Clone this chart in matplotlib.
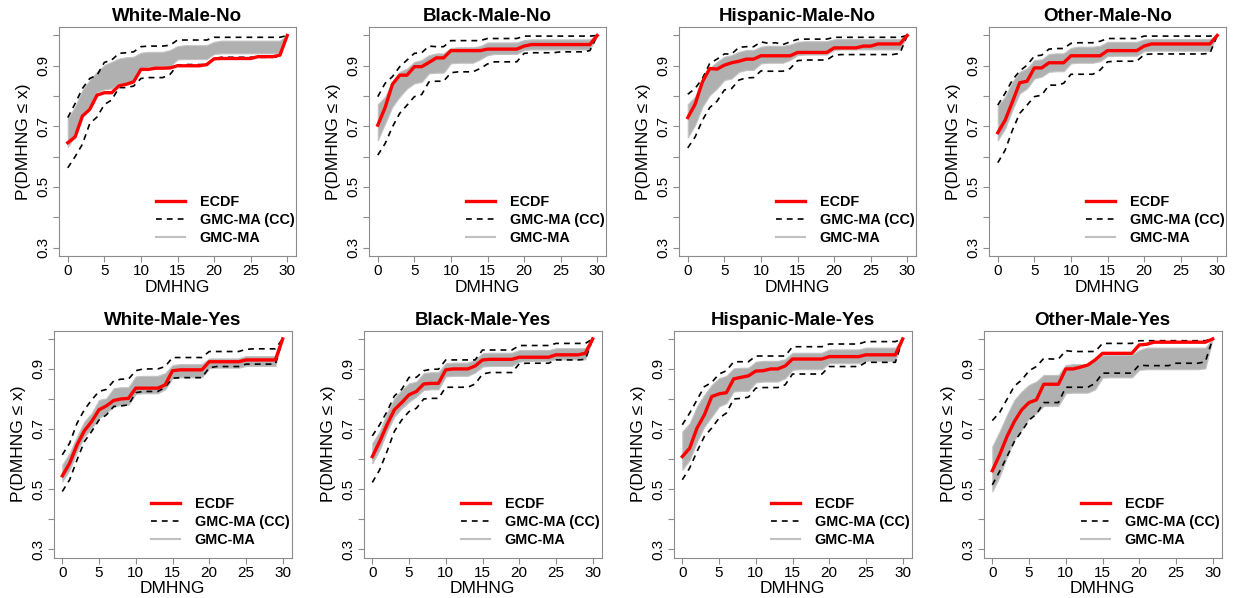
import numpy as np
import matplotlib
matplotlib.use("Agg")
import matplotlib.pyplot as plt

plt.rcParams['font.family'] = ['Liberation Sans', 'DejaVu Sans']

# DMHNG values (x axis)
dmhng = list(range(31))

titles = ["White-Male-No", "Black-Male-No", "Hispanic-Male-No", "Other-Male-No",
          "White-Male-Yes", "Black-Male-Yes", "Hispanic-Male-Yes", "Other-Male-Yes"]

# ---- White-Male-No
ecdf_wmn = [0.646, 0.665, 0.734, 0.756, 0.803, 0.811, 0.811, 0.834, 0.839, 0.847,
            0.888, 0.888, 0.892, 0.892, 0.893, 0.900, 0.900, 0.900, 0.900, 0.904,
            0.923, 0.924, 0.924, 0.924, 0.924, 0.924, 0.930, 0.930, 0.930, 0.935, 1.0]
cchi_wmn = [0.729, 0.775, 0.825, 0.858, 0.869, 0.911, 0.919, 0.941, 0.943, 0.946,
            0.963, 0.965, 0.965, 0.965, 0.968, 0.985, 0.985, 0.985, 0.985, 0.985,
            0.994, 0.994, 0.994, 0.994, 0.994, 0.994, 0.994, 0.994, 0.994, 0.994, 1.0]
cclo_wmn = [0.563, 0.600, 0.641, 0.709, 0.731, 0.772, 0.787, 0.828, 0.828, 0.833,
            0.858, 0.861, 0.861, 0.861, 0.872, 0.902, 0.904, 0.904, 0.904, 0.904,
            0.924, 0.928, 0.928, 0.928, 0.928, 0.928, 0.928, 0.928, 0.928, 0.930, 1.0]
bhi_wmn = [0.726, 0.765, 0.820, 0.853, 0.880, 0.902, 0.913, 0.924, 0.928, 0.930,
           0.943, 0.946, 0.946, 0.946, 0.952, 0.965, 0.968, 0.968, 0.968, 0.968,
           0.979, 0.983, 0.983, 0.983, 0.983, 0.983, 0.983, 0.983, 0.983, 0.983, 1.0]
blo_wmn = [0.632, 0.668, 0.743, 0.767, 0.814, 0.822, 0.825, 0.842, 0.844, 0.853,
           0.891, 0.897, 0.897, 0.897, 0.899, 0.921, 0.922, 0.922, 0.922, 0.922,
           0.939, 0.941, 0.941, 0.941, 0.941, 0.941, 0.941, 0.941, 0.941, 0.943, 1.0]

# ---- Black-Male-No
ecdf_bmn = [0.704, 0.762, 0.839, 0.869, 0.869, 0.897, 0.897, 0.911, 0.926, 0.926,
            0.950, 0.950, 0.950, 0.950, 0.950, 0.955, 0.955, 0.955, 0.955, 0.955,
            0.965, 0.970, 0.970, 0.970, 0.970, 0.970, 0.970, 0.970, 0.970, 0.970, 1.0]
cchi_bmn = [0.798, 0.842, 0.864, 0.897, 0.919, 0.941, 0.943, 0.965, 0.963, 0.963,
            0.983, 0.983, 0.983, 0.983, 0.983, 0.990, 0.990, 0.990, 0.990, 0.990,
            0.998, 0.998, 0.998, 0.998, 0.998, 0.998, 0.998, 0.998, 0.998, 0.998, 1.0]
cclo_bmn = [0.605, 0.643, 0.698, 0.743, 0.770, 0.798, 0.805, 0.847, 0.849, 0.849,
            0.877, 0.880, 0.880, 0.880, 0.891, 0.906, 0.913, 0.913, 0.913, 0.913,
            0.941, 0.943, 0.943, 0.943, 0.943, 0.946, 0.946, 0.946, 0.946, 0.950, 1.0]
bhi_bmn = [0.773, 0.798, 0.847, 0.880, 0.891, 0.913, 0.919, 0.935, 0.941, 0.941,
           0.959, 0.961, 0.961, 0.961, 0.965, 0.977, 0.977, 0.977, 0.977, 0.977,
           0.985, 0.987, 0.987, 0.987, 0.987, 0.987, 0.987, 0.987, 0.987, 0.987, 1.0]
blo_bmn = [0.654, 0.709, 0.765, 0.798, 0.825, 0.842, 0.847, 0.875, 0.877, 0.877,
           0.908, 0.910, 0.910, 0.910, 0.921, 0.935, 0.939, 0.939, 0.939, 0.939,
           0.952, 0.954, 0.954, 0.954, 0.954, 0.954, 0.954, 0.954, 0.954, 0.954, 1.0]

# ---- Hispanic-Male-No
ecdf_hmn = [0.729, 0.773, 0.847, 0.891, 0.889, 0.902, 0.910, 0.915, 0.922, 0.922,
            0.933, 0.933, 0.933, 0.933, 0.933, 0.944, 0.944, 0.944, 0.944, 0.944,
            0.959, 0.959, 0.959, 0.959, 0.965, 0.965, 0.972, 0.972, 0.972, 0.972, 1.0]
cchi_hmn = [0.806, 0.825, 0.858, 0.908, 0.922, 0.939, 0.939, 0.961, 0.963, 0.963,
            0.979, 0.974, 0.976, 0.970, 0.979, 0.987, 0.988, 0.988, 0.988, 0.988,
            0.994, 0.994, 0.994, 0.994, 0.994, 0.994, 0.994, 0.994, 0.994, 0.994, 1.0]
cclo_hmn = [0.629, 0.665, 0.720, 0.762, 0.783, 0.820, 0.825, 0.853, 0.860, 0.861,
            0.883, 0.882, 0.882, 0.882, 0.891, 0.917, 0.919, 0.919, 0.919, 0.919,
            0.935, 0.937, 0.937, 0.937, 0.937, 0.937, 0.937, 0.937, 0.937, 0.941, 1.0]
bhi_hmn = [0.773, 0.798, 0.853, 0.893, 0.913, 0.930, 0.935, 0.946, 0.952, 0.952,
           0.963, 0.966, 0.966, 0.966, 0.970, 0.979, 0.981, 0.981, 0.981, 0.981,
           0.987, 0.988, 0.988, 0.988, 0.988, 0.988, 0.988, 0.988, 0.988, 0.988, 1.0]
blo_hmn = [0.663, 0.704, 0.765, 0.803, 0.825, 0.853, 0.858, 0.880, 0.886, 0.886,
           0.908, 0.910, 0.910, 0.910, 0.919, 0.935, 0.937, 0.937, 0.937, 0.937,
           0.952, 0.954, 0.954, 0.954, 0.954, 0.954, 0.954, 0.954, 0.954, 0.954, 1.0]

# ---- Other-Male-No
ecdf_omn = [0.679, 0.720, 0.781, 0.844, 0.849, 0.893, 0.893, 0.910, 0.910, 0.910,
            0.933, 0.933, 0.933, 0.933, 0.933, 0.950, 0.950, 0.950, 0.950, 0.950,
            0.965, 0.972, 0.972, 0.972, 0.972, 0.972, 0.972, 0.972, 0.972, 0.972, 1.0]
cchi_omn = [0.770, 0.809, 0.853, 0.883, 0.902, 0.932, 0.935, 0.955, 0.957, 0.957,
            0.974, 0.976, 0.976, 0.976, 0.981, 0.990, 0.990, 0.990, 0.990, 0.990,
            0.998, 0.998, 0.998, 0.998, 0.998, 0.998, 0.998, 0.998, 0.998, 0.998, 1.0]
cclo_omn = [0.580, 0.621, 0.687, 0.743, 0.770, 0.798, 0.803, 0.836, 0.836, 0.842,
            0.872, 0.872, 0.872, 0.872, 0.886, 0.913, 0.915, 0.915, 0.915, 0.915,
            0.937, 0.939, 0.939, 0.939, 0.939, 0.939, 0.939, 0.939, 0.939, 0.941, 1.0]
bhi_omn = [0.767, 0.798, 0.847, 0.880, 0.891, 0.919, 0.921, 0.939, 0.941, 0.941,
           0.959, 0.963, 0.963, 0.963, 0.966, 0.979, 0.979, 0.979, 0.979, 0.979,
           0.987, 0.988, 0.988, 0.988, 0.988, 0.988, 0.988, 0.988, 0.988, 0.988, 1.0]
blo_omn = [0.654, 0.693, 0.754, 0.809, 0.825, 0.858, 0.864, 0.880, 0.882, 0.882,
           0.908, 0.910, 0.910, 0.910, 0.915, 0.932, 0.933, 0.933, 0.933, 0.933,
           0.948, 0.950, 0.950, 0.950, 0.950, 0.950, 0.950, 0.950, 0.950, 0.950, 1.0]

# ---- White-Male-Yes
ecdf_wmy = [0.544, 0.586, 0.647, 0.694, 0.725, 0.764, 0.777, 0.795, 0.800, 0.802,
            0.836, 0.836, 0.836, 0.836, 0.847, 0.894, 0.897, 0.897, 0.897, 0.897,
            0.924, 0.924, 0.924, 0.924, 0.924, 0.930, 0.930, 0.930, 0.930, 0.930, 1.0]
cchi_wmy = [0.614, 0.653, 0.719, 0.764, 0.797, 0.825, 0.832, 0.860, 0.866, 0.866,
            0.894, 0.900, 0.900, 0.900, 0.908, 0.938, 0.938, 0.938, 0.938, 0.938,
            0.958, 0.958, 0.958, 0.958, 0.958, 0.965, 0.967, 0.967, 0.967, 0.967, 1.0]
cclo_wmy = [0.492, 0.531, 0.597, 0.658, 0.692, 0.730, 0.747, 0.775, 0.777, 0.780,
            0.821, 0.825, 0.825, 0.825, 0.839, 0.869, 0.871, 0.871, 0.871, 0.871,
            0.904, 0.908, 0.908, 0.908, 0.908, 0.916, 0.916, 0.916, 0.916, 0.916, 1.0]
bhi_wmy = [0.581, 0.620, 0.675, 0.725, 0.753, 0.797, 0.802, 0.836, 0.839, 0.839,
           0.875, 0.877, 0.877, 0.877, 0.886, 0.913, 0.916, 0.916, 0.916, 0.916,
           0.935, 0.935, 0.935, 0.935, 0.935, 0.943, 0.943, 0.943, 0.943, 0.943, 1.0]
blo_wmy = [0.525, 0.564, 0.625, 0.675, 0.703, 0.736, 0.753, 0.775, 0.780, 0.780,
           0.817, 0.819, 0.819, 0.819, 0.832, 0.869, 0.872, 0.872, 0.872, 0.872,
           0.902, 0.904, 0.904, 0.904, 0.904, 0.910, 0.910, 0.910, 0.910, 0.910, 1.0]

# ---- Black-Male-Yes
ecdf_bmy = [0.608, 0.658, 0.714, 0.764, 0.788, 0.814, 0.825, 0.850, 0.852, 0.852,
            0.897, 0.900, 0.900, 0.900, 0.910, 0.930, 0.932, 0.932, 0.932, 0.932,
            0.939, 0.939, 0.939, 0.939, 0.939, 0.947, 0.947, 0.947, 0.947, 0.952, 1.0]
cchi_bmy = [0.677, 0.714, 0.758, 0.810, 0.832, 0.872, 0.872, 0.894, 0.899, 0.899,
            0.930, 0.930, 0.930, 0.930, 0.930, 0.963, 0.963, 0.963, 0.963, 0.963,
            0.978, 0.978, 0.978, 0.978, 0.978, 0.985, 0.985, 0.985, 0.985, 0.985, 1.0]
cclo_bmy = [0.522, 0.564, 0.625, 0.692, 0.730, 0.758, 0.769, 0.800, 0.802, 0.802,
            0.839, 0.839, 0.839, 0.839, 0.850, 0.883, 0.888, 0.888, 0.888, 0.888,
            0.917, 0.919, 0.919, 0.919, 0.919, 0.930, 0.930, 0.930, 0.930, 0.932, 1.0]
bhi_bmy = [0.653, 0.692, 0.753, 0.802, 0.830, 0.852, 0.858, 0.886, 0.889, 0.889,
           0.919, 0.921, 0.921, 0.921, 0.930, 0.952, 0.954, 0.954, 0.954, 0.954,
           0.963, 0.963, 0.963, 0.963, 0.963, 0.969, 0.969, 0.969, 0.969, 0.969, 1.0]
blo_bmy = [0.586, 0.631, 0.692, 0.741, 0.769, 0.791, 0.808, 0.830, 0.832, 0.832,
           0.875, 0.877, 0.877, 0.877, 0.888, 0.908, 0.910, 0.910, 0.910, 0.910,
           0.924, 0.927, 0.927, 0.927, 0.927, 0.932, 0.932, 0.932, 0.932, 0.932, 1.0]

# ---- Hispanic-Male-Yes
ecdf_hmy = [0.608, 0.636, 0.703, 0.747, 0.808, 0.817, 0.821, 0.867, 0.872, 0.877,
            0.893, 0.894, 0.900, 0.900, 0.910, 0.933, 0.933, 0.933, 0.933, 0.933,
            0.941, 0.941, 0.941, 0.941, 0.941, 0.947, 0.947, 0.947, 0.947, 0.947, 1.0]
cchi_hmy = [0.714, 0.753, 0.797, 0.841, 0.855, 0.883, 0.894, 0.924, 0.924, 0.924,
            0.943, 0.943, 0.943, 0.943, 0.943, 0.974, 0.974, 0.974, 0.974, 0.974,
            0.983, 0.983, 0.983, 0.983, 0.983, 0.991, 0.991, 0.991, 0.991, 0.991, 1.0]
cclo_hmy = [0.531, 0.570, 0.625, 0.675, 0.703, 0.736, 0.753, 0.800, 0.802, 0.806,
            0.836, 0.838, 0.838, 0.838, 0.847, 0.883, 0.883, 0.883, 0.883, 0.883,
            0.908, 0.908, 0.908, 0.908, 0.908, 0.922, 0.922, 0.922, 0.922, 0.922, 1.0]
bhi_hmy = [0.692, 0.719, 0.775, 0.814, 0.847, 0.869, 0.877, 0.902, 0.904, 0.904,
           0.924, 0.927, 0.927, 0.927, 0.932, 0.954, 0.954, 0.954, 0.954, 0.954,
           0.965, 0.965, 0.965, 0.965, 0.965, 0.971, 0.971, 0.971, 0.971, 0.971, 1.0]
blo_hmy = [0.564, 0.597, 0.658, 0.708, 0.741, 0.775, 0.786, 0.825, 0.827, 0.827,
           0.855, 0.858, 0.858, 0.858, 0.869, 0.897, 0.899, 0.899, 0.899, 0.899,
           0.919, 0.919, 0.919, 0.919, 0.919, 0.927, 0.927, 0.927, 0.927, 0.927, 1.0]

# ---- Other-Male-Yes
ecdf_omy = [0.561, 0.614, 0.675, 0.725, 0.764, 0.788, 0.797, 0.849, 0.849, 0.849,
            0.900, 0.900, 0.906, 0.913, 0.930, 0.952, 0.952, 0.952, 0.952, 0.952,
            0.980, 0.982, 0.989, 0.989, 0.989, 0.989, 0.989, 0.989, 0.989, 0.989, 1.0]
cchi_omy = [0.728, 0.755, 0.799, 0.843, 0.863, 0.894, 0.908, 0.935, 0.933, 0.933,
            0.961, 0.958, 0.958, 0.958, 0.958, 0.985, 0.985, 0.985, 0.985, 0.985,
            0.994, 0.994, 0.994, 0.994, 0.994, 0.994, 0.994, 0.994, 0.994, 0.994, 1.0]
cclo_omy = [0.514, 0.559, 0.608, 0.658, 0.692, 0.730, 0.749, 0.788, 0.788, 0.788,
            0.839, 0.839, 0.839, 0.839, 0.852, 0.886, 0.886, 0.886, 0.886, 0.886,
            0.913, 0.911, 0.911, 0.911, 0.911, 0.919, 0.919, 0.919, 0.919, 0.924, 1.0]
bhi_omy = [0.642, 0.692, 0.747, 0.797, 0.825, 0.847, 0.858, 0.880, 0.880, 0.880,
           0.913, 0.916, 0.916, 0.916, 0.927, 0.947, 0.947, 0.947, 0.947, 0.947,
           0.963, 0.971, 0.971, 0.971, 0.971, 0.971, 0.971, 0.971, 0.971, 0.971, 1.0]
blo_omy = [0.492, 0.542, 0.608, 0.664, 0.697, 0.736, 0.753, 0.777, 0.777, 0.777,
           0.819, 0.821, 0.821, 0.821, 0.832, 0.871, 0.872, 0.872, 0.872, 0.872,
           0.897, 0.899, 0.899, 0.899, 0.899, 0.899, 0.899, 0.899, 0.899, 0.902, 1.0]

panels = [
    (ecdf_wmn, cchi_wmn, cclo_wmn, bhi_wmn, blo_wmn),
    (ecdf_bmn, cchi_bmn, cclo_bmn, bhi_bmn, blo_bmn),
    (ecdf_hmn, cchi_hmn, cclo_hmn, bhi_hmn, blo_hmn),
    (ecdf_omn, cchi_omn, cclo_omn, bhi_omn, blo_omn),
    (ecdf_wmy, cchi_wmy, cclo_wmy, bhi_wmy, blo_wmy),
    (ecdf_bmy, cchi_bmy, cclo_bmy, bhi_bmy, blo_bmy),
    (ecdf_hmy, cchi_hmy, cclo_hmy, bhi_hmy, blo_hmy),
    (ecdf_omy, cchi_omy, cclo_omy, bhi_omy, blo_omy),
]

yticks = [0.3, 0.4, 0.5, 0.6, 0.7, 0.8, 0.9, 1.0]
ytick_labels = ["0.3", "", "0.5", "", "0.7", "", "0.9", ""]
xticks = [0, 5, 10, 15, 20, 25, 30]

# panel boxes in pixels: left, top, width, height
W, H = 1233, 598
boxes = [(59, 27, 237, 229), (369, 27, 237, 229), (679, 27, 237, 229), (989, 27, 237, 229),
         (53.5, 330.5, 238, 227), (363.5, 330.5, 238, 227), (673.5, 330.5, 238, 227), (983.5, 330.5, 238, 227)]

fig = plt.figure(figsize=(W / 100, H / 100), dpi=100)
box_col = '#8c8c8c'

for i, (ecdf, cchi, cclo, bhi, blo) in enumerate(panels):
    l, t, w, h = boxes[i]
    ax = fig.add_axes([l / W, 1 - (t + h) / H, w / W, h / H])

    ax.fill_between(dmhng, blo, bhi, facecolor='#b0b0b0', edgecolor='#c4c4c4', linewidth=0.8, zorder=1)
    ax.plot([], [], color='#c0c0c0', lw=1.5, label='GMC-MA')
    ax.plot(dmhng, cchi, color='black', lw=1.2, dashes=(3.5, 3), zorder=2)
    ax.plot(dmhng, cclo, color='black', lw=1.2, dashes=(3.5, 3), zorder=2, label='GMC-MA (CC)')
    ax.plot(dmhng, ecdf, color='#ff0000', lw=2.4, zorder=3, label='ECDF')

    ax.set_xlim(-1.2, 31.2)
    ax.set_ylim(0.272, 1.028)
    ax.set_xticks(xticks)
    ax.set_xticklabels([str(v) for v in xticks], fontsize=11)
    ax.set_yticks(yticks)
    ax.set_yticklabels(ytick_labels, fontsize=11, rotation=90, va='center')
    ax.tick_params(length=4, width=0.8, color=box_col, pad=2)
    for sp in ax.spines.values():
        sp.set_color(box_col)
        sp.set_linewidth(0.8)

    ax.set_title(titles[i], fontsize=13.5, fontweight='bold', pad=4)
    ax.set_xlabel('DMHNG', fontsize=12.5, labelpad=1)
    ax.set_ylabel('P(DMHNG \u2264 x)', fontsize=12.5, labelpad=4)

    handles, labels = ax.get_legend_handles_labels()
    order = [2, 1, 0]
    leg = ax.legend([handles[k] for k in order], [labels[k] for k in order],
                    loc='lower left', bbox_to_anchor=(0.365, 0.0), frameon=False,
                    prop={'weight': 'bold', 'size': 10.4}, handlelength=2.0,
                    handletextpad=1.0, labelspacing=0.28, borderpad=0.25)

fig.savefig('out.png', dpi=100)
